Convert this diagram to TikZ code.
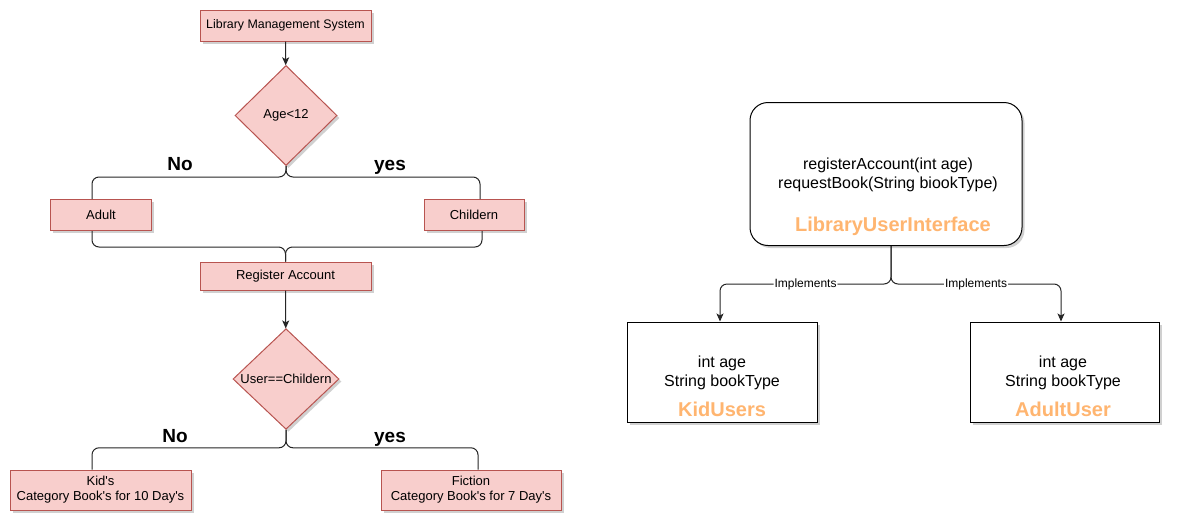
\documentclass[tikz,border=0pt]{standalone}
\usepackage{fontspec}
\setmainfont{Liberation Sans}
\usetikzlibrary{shapes.geometric,shadows,calc,arrows.meta}
\definecolor{pinkfill}{HTML}{F8CECC}
\definecolor{pinkline}{HTML}{B85450}
\definecolor{orangetxt}{HTML}{FFB570}
\begin{document}
\begin{tikzpicture}[x=1pt,y=-1pt,
 shadowed/.style={drop shadow={shadow xshift=2.5pt,shadow yshift=-2.5pt,opacity=0.3,fill=black!60}},
 flowbox/.style={draw=pinkline,fill=pinkfill,line width=1pt,shadowed,inner sep=0pt,font=\fontsize{13}{15}\selectfont,align=center},
 decision/.style={flowbox,diamond,aspect=1},
 branchlabel/.style={font=\fontsize{19}{22}\selectfont\bfseries,anchor=base},
 conn/.style={line width=1pt,draw=black!85,rounded corners=7pt},
 arr/.style={conn,-{Stealth[length=8pt,width=7pt,inset=2pt]}},
 umlbox/.style={draw,fill=white,line width=1pt,shadowed},
 umltext/.style={font=\fontsize{16}{18.5}\selectfont,align=center,inner sep=0pt},
 umltitle/.style={font=\fontsize{20}{24}\selectfont\bfseries,text=orangetxt,inner sep=0pt},
 impl/.style={font=\fontsize{12}{13}\selectfont,fill=white,inner sep=1pt}
]
\useasboundingbox[fill=white] (0,0) rectangle (1177,528);

% ---------- flowchart ----------
\node[flowbox,minimum width=171pt,minimum height=31pt,font=\fontsize{12.4}{14}\selectfont] (title) at (285.5,25.5) {Library Management System};
\node[decision,minimum width=102pt,minimum height=100pt] (d1) at (286,115.5) {Age<12};
\node[flowbox,minimum width=101pt,minimum height=31pt] (adult) at (101,215) {Adult};
\node[flowbox,minimum width=100pt,minimum height=31pt] (child) at (474,215) {Childern};
\node[flowbox,minimum width=171pt,minimum height=28pt] (reg) at (285.5,276) {Register Account};
\node[decision,minimum width=106pt,minimum height=98pt] (d2) at (286,379) {User==Childern};
\node[flowbox,minimum width=181pt,minimum height=40pt] (kid) at (100.5,490) {Kid\textquotesingle s\\Category Book\textquotesingle s for 10 Day\textquotesingle s};
\node[flowbox,minimum width=180pt,minimum height=40pt] (fic) at (471,490) {Fiction\\Category Book\textquotesingle s for 7 Day\textquotesingle s};

\node[branchlabel] (no1) at (180,170) {No};
\node[branchlabel] (yes1) at (390,170) {yes};
\node[branchlabel] (no2) at (175,442) {No};
\node[branchlabel] (yes2) at (390,442) {yes};

\draw[arr] (title) -- (d1);
\draw[conn] (d1.south) -- ++(0,11) -| ($(adult.north)+(-9,0)$);
\draw[conn] (d1.south) -- ++(0,11) -| ($(child.north)+(6,0)$);
\draw[conn] ($(adult.south)+(-9,0)$) -- ++(0,16) -| (reg.north);
\draw[conn] ($(child.south)+(8,0)$) -- ++(0,16) -| (reg.north);
\draw[arr] (reg) -- (d2);
\draw[conn] (d2.south) -- ++(0,18) -| ($(kid.north)+(-8.5,0)$);
\draw[conn] (d2.south) -- ++(0,18) -| ($(fic.north)+(7,0)$);

% ---------- class diagram ----------
\node[umlbox,rounded corners=18pt,minimum width=272pt,minimum height=143pt] (lui) at (886,174) {};
\node[umltext] (luiops) at (888,175) {registerAccount(int age)\\requestBook(String biookType)};
\node[umltitle] (luiname) at (893,226) {LibraryUserInterface};

\node[umlbox,minimum width=190pt,minimum height=100pt] (kidu) at (722,372) {};
\node[umltext] (kidattr) at (722,373) {int age\\String bookType};
\node[umltitle] (kidname) at (722,409) {KidUsers};

\node[umlbox,minimum width=189pt,minimum height=100pt] (adultu) at (1064.5,372) {};
\node[umltext] (adultattr) at (1063,373) {int age\\String bookType};
\node[umltitle] (adultname) at (1063,409) {AdultUser};

\draw[arr] ($(lui.south)+(5,0)$) -- ++(0,38) -| node[impl,pos=0.25] (impl1) {Implements} ($(kidu.north)+(-2,0)$);
\draw[arr] ($(lui.south)+(5,0)$) -- ++(0,38) -| node[impl,pos=0.25] (impl2) {Implements} ($(adultu.north)+(-3.5,0)$);
\end{tikzpicture}
\end{document}
